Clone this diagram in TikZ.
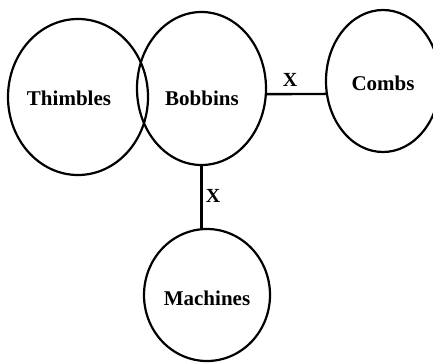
\documentclass[tikz,border=0pt]{standalone}
\usepackage{fontspec}
\setmainfont{Liberation Serif}
\usetikzlibrary{shapes.geometric}
\tikzset{
	set/.style={draw,ellipse,line width=2.2pt,inner sep=0pt,outer sep=0pt},
	settext/.style={font=\bfseries\fontsize{21}{25}\selectfont,inner sep=0pt},
	rel/.style={font=\bfseries\fontsize{20}{24}\selectfont,inner sep=0pt},
	link/.style={line width=2.4pt}
}
\begin{document}
\begin{tikzpicture}[x=1pt,y=-1pt]
	\useasboundingbox (0,0) rectangle (433,362);

	\node[set,minimum width=140pt,minimum height=156pt] (thimbles) at (78,97) {};
	\node[set,minimum width=129pt,minimum height=153pt] (bobbins) at (201.5,88.5) {};
	\node[set,minimum width=114pt,minimum height=142pt] (combs) at (383,81) {};
	\node[set,minimum width=126pt,minimum height=132pt] (machines) at (207,295) {};

	\node[settext] (thimblestext) at (69,98) {Thimbles};
	\node[settext] (bobbinstext) at (202,98) {Bobbins};
	\node[settext] (combstext) at (383,83) {Combs};
	\node[settext] (machinestext) at (207,298) {Machines};

	\draw[link] (bobbins.-5.8) -- (combs.193.8);
	\draw[link] (bobbins.south) -- (bobbins.south |- machines.north);

	\node[rel] (xcombs) at (290,80) {X};
	\node[rel] (xmachines) at (213,196) {X};
\end{tikzpicture}
\end{document}
